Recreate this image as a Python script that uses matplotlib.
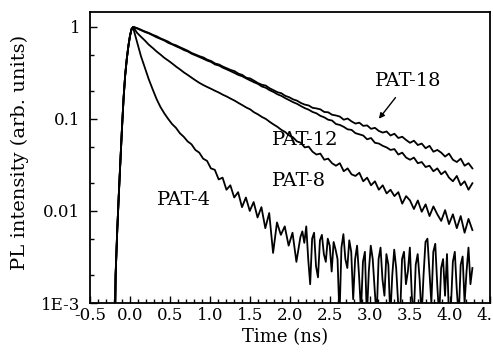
import numpy as np
import matplotlib.pyplot as plt
from matplotlib.ticker import FixedLocator, MultipleLocator, NullFormatter

plt.rcParams['font.family'] = ['DejaVu Serif']
plt.rcParams['axes.unicode_minus'] = False

# time axis (ns): common rising edge, then decay samples
rise_t = [-0.5, -0.2, -0.18, -0.16, -0.14, -0.12, -0.1, -0.08, -0.06, -0.04, -0.02, 0.0, 0.02]
rise_i = [1e-4, 1e-4, 0.002, 0.006, 0.015, 0.035, 0.08, 0.17, 0.3, 0.45, 0.62, 0.8, 0.95]
decay_t = np.linspace(0.04, 4.28, 88)

pat18 = [1.0, 0.97, 0.93, 0.89, 0.86, 0.82, 0.79, 0.75, 0.72, 0.69,
         0.65, 0.63, 0.60, 0.575, 0.55, 0.52, 0.50, 0.48, 0.465, 0.44,
         0.425, 0.40, 0.39, 0.37, 0.355, 0.34, 0.33, 0.31, 0.30, 0.28,
         0.275, 0.26, 0.245, 0.235, 0.23, 0.215, 0.205, 0.195, 0.19, 0.178,
         0.172, 0.163, 0.158, 0.149, 0.143, 0.140, 0.132, 0.130, 0.127, 0.119,
         0.118, 0.111, 0.109, 0.106, 0.098, 0.101, 0.094, 0.089, 0.091, 0.084,
         0.085, 0.078, 0.080, 0.074, 0.071, 0.073, 0.066, 0.069, 0.062, 0.064,
         0.059, 0.055, 0.058, 0.052, 0.054, 0.048, 0.051, 0.044, 0.046, 0.043,
         0.039, 0.042, 0.036, 0.034, 0.037, 0.031, 0.033, 0.029]

pat12 = [1.0, 0.96, 0.92, 0.88, 0.85, 0.81, 0.77, 0.74, 0.71, 0.67,
         0.645, 0.615, 0.59, 0.56, 0.54, 0.51, 0.49, 0.47, 0.45, 0.43,
         0.415, 0.39, 0.38, 0.36, 0.345, 0.33, 0.315, 0.30, 0.29, 0.275,
         0.262, 0.25, 0.24, 0.225, 0.218, 0.205, 0.196, 0.185, 0.178, 0.168,
         0.16, 0.152, 0.146, 0.138, 0.131, 0.126, 0.119, 0.115, 0.108, 0.104,
         0.098, 0.096, 0.088, 0.086, 0.082, 0.077, 0.076, 0.070, 0.068, 0.066,
         0.060, 0.062, 0.055, 0.054, 0.051, 0.049, 0.046, 0.047, 0.041, 0.043,
         0.038, 0.036, 0.038, 0.033, 0.034, 0.030, 0.031, 0.027, 0.029, 0.025,
         0.027, 0.023, 0.021, 0.024, 0.019, 0.021, 0.017, 0.020]

pat8 = [1.0, 0.86, 0.78, 0.71, 0.64, 0.59, 0.54, 0.50, 0.46, 0.43,
        0.40, 0.37, 0.345, 0.32, 0.30, 0.28, 0.262, 0.246, 0.233, 0.222,
        0.212, 0.202, 0.193, 0.183, 0.175, 0.166, 0.158, 0.149, 0.141, 0.133,
        0.127, 0.118, 0.112, 0.105, 0.1, 0.093, 0.087, 0.082, 0.076, 0.072,
        0.066, 0.063, 0.057, 0.055, 0.049, 0.050, 0.044, 0.041, 0.042, 0.036,
        0.037, 0.033, 0.031, 0.033, 0.027, 0.029, 0.025, 0.024, 0.026, 0.021,
        0.023, 0.019, 0.021, 0.017, 0.019, 0.0155, 0.017, 0.0145, 0.016, 0.012,
        0.0145, 0.013, 0.0105, 0.013, 0.0098, 0.0118, 0.0088, 0.0112, 0.0092, 0.0078,
        0.0102, 0.0072, 0.0092, 0.0065, 0.0088, 0.0058, 0.0082, 0.0062]

# PAT-4: fast decay, then a noisy floor sampled more finely
pat4_t = np.concatenate([np.linspace(0.04, 2.08, 43), np.linspace(2.13, 4.28, 89)])
pat4 = [0.97, 0.68, 0.48, 0.36, 0.27, 0.21, 0.165, 0.135, 0.115, 0.10,
        0.088, 0.08, 0.07, 0.064, 0.057, 0.053, 0.046, 0.043, 0.037, 0.035,
        0.029, 0.028, 0.022, 0.023, 0.017, 0.019, 0.014, 0.016, 0.011, 0.014,
        0.010, 0.0125, 0.0085, 0.011, 0.0065, 0.0095, 0.0035, 0.0075, 0.0055, 0.0068,
        0.0042, 0.0058, 0.0028,
        0.0052, 0.0060, 0.0045, 0.0068, 0.0030, 0.0016, 0.0050, 0.0058, 0.0025, 0.0019,
        0.0048, 0.0055, 0.0034, 0.0028, 0.0050, 0.0042, 0.0022, 0.0046, 0.0038, 0.0030,
        0.0007, 0.0040, 0.0056, 0.0030, 0.0024, 0.0048, 0.0036, 0.0011, 0.0030, 0.0042,
        0.0020, 0.0008, 0.0028, 0.0036, 0.0007, 0.0022, 0.0042, 0.0030, 0.0014, 0.0007,
        0.0030, 0.0040, 0.0018, 0.0012, 0.0034, 0.0026, 0.0007, 0.0020, 0.0038, 0.0024,
        0.0010, 0.0007, 0.0030, 0.0036, 0.0016, 0.0022, 0.0040, 0.0012, 0.0007, 0.0026,
        0.0034, 0.0018, 0.0007, 0.0020, 0.0046, 0.0050, 0.0022, 0.0010, 0.0036, 0.0044,
        0.0016, 0.0007, 0.0024, 0.0030, 0.0012, 0.0034, 0.0007, 0.0009, 0.0028, 0.0036,
        0.0014, 0.0007, 0.0026, 0.0032, 0.0010, 0.0022, 0.0040, 0.0016, 0.0024]

curves = [(decay_t, pat18), (decay_t, pat12), (decay_t, pat8), (pat4_t, pat4)]

# label text positions (time, intensity)
label_pos = {"PAT-18": (3.475, 0.26), "PAT-12": (2.19, 0.059),
             "PAT-8": (2.11, 0.021), "PAT-4": (0.675, 0.013)}

fig = plt.figure(figsize=(4.93, 3.53), dpi=100)
ax = fig.add_axes([90 / 493, 1 - 303 / 353, 400 / 493, 291 / 353])

for t_dec, vals in curves:
    t = np.concatenate([rise_t, t_dec])
    y = np.concatenate([rise_i, vals])
    ax.plot(t, y, color="black", lw=1.3)

ax.set_yscale("log")
ax.set_xlim(-0.5, 4.5)
ax.set_ylim(1e-3, 1.45)

ax.yaxis.set_major_locator(FixedLocator([1e-3, 1e-2, 0.1, 1]))
ax.yaxis.set_minor_locator(FixedLocator([2e-3, 5e-3, 2e-2, 5e-2, 0.2, 0.5]))
ax.yaxis.set_minor_formatter(NullFormatter())
ax.set_yticklabels(["1E-3", "0.01", "0.1", "1"])

xt = [-0.5, 0.0, 0.5, 1.0, 1.5, 2.0, 2.5, 3.0, 3.5, 4.0, 4.5]
ax.set_xticks(xt)
ax.set_xticklabels(["%.1f" % v for v in xt])
ax.xaxis.set_minor_locator(MultipleLocator(0.1))

ax.tick_params(which="both", direction="in", labelsize=12, width=1)
ax.tick_params(which="major", length=5)
ax.tick_params(which="minor", length=3)
ax.tick_params(axis="x", pad=3)
ax.tick_params(axis="y", pad=7)
for s in ax.spines.values():
    s.set_linewidth(1.3)

for name, (tx, ty) in label_pos.items():
    ax.text(tx, ty, name, fontsize=14, ha="center", va="center")
ax.annotate("", xy=(3.09, 0.095), xytext=(3.34, 0.18),
            arrowprops=dict(arrowstyle="-|>", color="black", lw=1, mutation_scale=8))

fig.text(285 / 493, 1 - 337 / 353, "Time (ns)", fontsize=13, ha="center", va="center")
fig.text(20 / 493, 1 - 152 / 353, "PL intensity (arb. units)", fontsize=14,
         rotation=90, ha="center", va="center")

fig.savefig("out.png", dpi=100)
